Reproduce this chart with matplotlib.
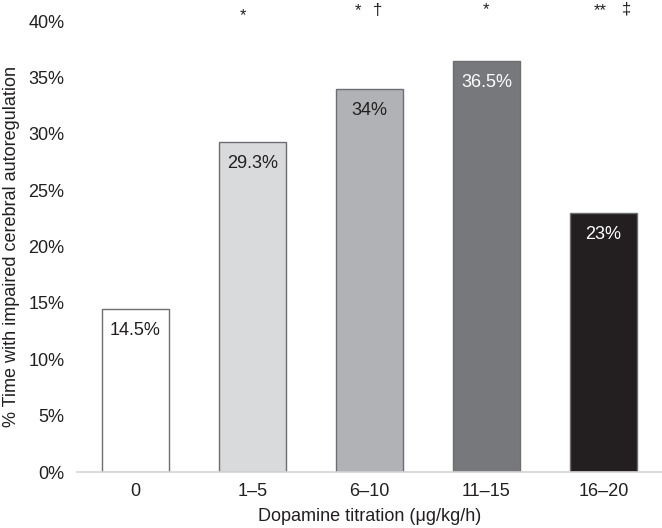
import matplotlib.pyplot as plt

plt.rcParams['font.family'] = ['Liberation Sans', 'DejaVu Sans']

categories = ['0', '1\u20135', '6\u201310', '11\u201315', '16\u201320']
values = [14.5, 29.3, 34.0, 36.5, 23.0]
value_labels = ['14.5%', '29.3%', '34%', '36.5%', '23%']
# significance marks: (symbol, x offset from bar centre, baseline height in %)
sig_marks = [
    [],
    [('*', -0.08, 40.1)],
    [('*', -0.10, 40.5), ('\u2020', 0.07, 40.5)],
    [('*', 0.0, 40.6)],
    [('**', -0.03, 40.5), ('\u2021', 0.2, 40.7)],
]
yticks = [0, 5, 10, 15, 20, 25, 30, 35, 40]

bar_colors = ['#ffffff', '#d9dadc', '#b1b2b5', '#77787b', '#231f20']
label_colors = ['#231f20', '#231f20', '#231f20', '#ffffff', '#ffffff']
text_color = '#231f20'

fig = plt.figure(figsize=(6.62, 5.28), dpi=100)
ax = fig.add_axes([0.116, 0.106, 0.884, 0.854])

x = range(len(categories))
bars = ax.bar(x, values, width=0.57, color=bar_colors, edgecolor='#6d6e71', linewidth=1.0, zorder=2)

for i, b in enumerate(bars):
    ax.annotate(value_labels[i], (b.get_x() + b.get_width() / 2, values[i]),
                xytext=(0, -15.5), textcoords='offset points', ha='center', va='center',
                fontsize=13, color=label_colors[i])
    for mark, dx, y in sig_marks[i]:
        ax.text(i + dx, y, mark, ha='center', va='baseline', fontsize=12,
                color=text_color, clip_on=False)

ax.set_xlim(-0.5, 4.5)
ax.set_ylim(0, 40)
ax.set_yticks(yticks)
ax.set_yticklabels([f'{t}%' for t in yticks])
ax.set_xticks(list(x))
ax.set_xticklabels(categories)
ax.tick_params(axis='both', length=0, labelsize=13, colors=text_color)
ax.tick_params(axis='y', pad=9)
ax.tick_params(axis='x', pad=8)

for s in ['top', 'right', 'left']:
    ax.spines[s].set_visible(False)
ax.spines['bottom'].set_color('#d4d4d4')
ax.spines['bottom'].set_linewidth(1.2)

ax.set_xlabel('Dopamine titration (\u03bcg/kg/h)', fontsize=13, color=text_color, labelpad=6)
ax.set_ylabel('% Time with impaired cerebral autoregulation', fontsize=13, color=text_color, labelpad=6)

plt.savefig('out.png', dpi=100)
